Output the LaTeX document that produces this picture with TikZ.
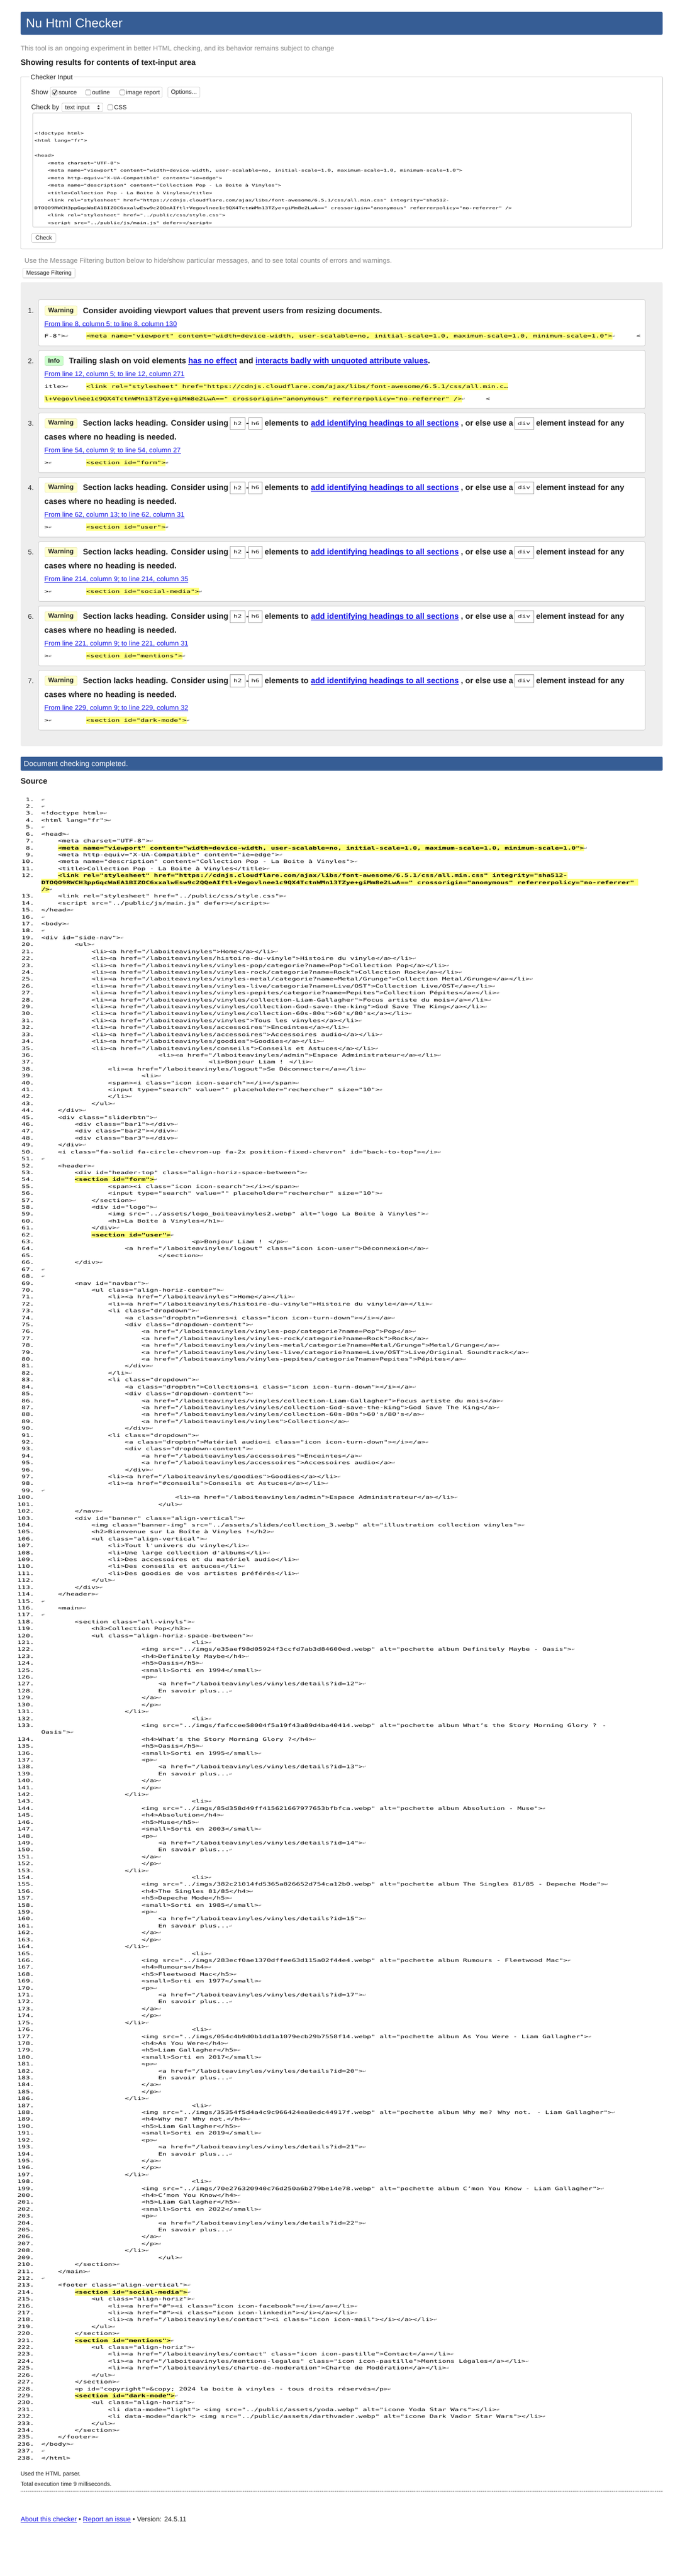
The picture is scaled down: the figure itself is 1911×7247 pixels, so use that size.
\documentclass[tikz,border=0pt]{standalone}
\usepackage{fontspec}
\setmainfont{Liberation Sans}
\newfontfamily\mono[FakeStretch=1.5]{DejaVu Sans Mono}
\newfontfamily\arr{DejaVu Sans}
\definecolor{hdr}{HTML}{365D95}
\definecolor{lnk}{HTML}{1A1AE6}
\definecolor{hl}{HTML}{FFFF80}
\definecolor{grayt}{HTML}{888888}
\definecolor{resbg}{HTML}{EEEEEE}
\definecolor{bord}{HTML}{CCCCCC}
\definecolor{warnbg}{HTML}{FFFFCC}
\definecolor{warnbd}{HTML}{CFCF9A}
\definecolor{infobg}{HTML}{CCFFCC}
\definecolor{infobd}{HTML}{9ACF9A}
\definecolor{txt}{HTML}{222222}
\definecolor{retc}{HTML}{555555}
\definecolor{codeb}{HTML}{999999}
\newcommand\fs[1]{\fontsize{#1pt}{#1pt}\selectfont}
\newcommand\ulk[1]{\setbox0\hbox{#1}\rlap{\rule[-3.2pt]{\wd0}{1.3pt}}\box0}
\newcommand\arrc{{\arr\fs{11}\color{retc}↵}}
\newcommand\ly[1]{2254+19.44*(#1-1+2*(#1>12)+(#1>133))}
\tikzset{
  lnum/.style={anchor=base east, font=\mono\fs{13}, text=black},
  src/.style={anchor=base west, font=\mono\fs{13}, text=black},
  srch/.style={anchor=base west, font=\mono\bfseries\fs{13}, text=black, fill=hl, text height=14.25pt, text depth=4.75pt},
  retn/.style={anchor=base west, font=\arr\fs{11}, text=retc},
  body/.style={anchor=base west, font=\fs{19.2}},
  ttl/.style={anchor=base west, font=\bfseries\fs{22.2}},
  lnkt/.style={anchor=base west, font=\fs{19.2}, text=lnk},
  cbox/.style={draw=codeb, densely dotted, minimum height=34pt, font=\mono\fs{13}},
  xtr/.style={anchor=base west, font=\mono\fs{13}, text=black},
  xtrh/.style={anchor=base west, font=\mono\fs{13}, text=black, fill=hl, text height=15.1pt, text depth=5.6pt},
  tat/.style={anchor=base west, font=\mono\fs{10.25}, text=black},
  btn/.style={draw=bord, rounded corners=3pt, fill=white, line width=1pt},
  cbk/.style={draw=codeb, rounded corners=2pt, fill=white, line width=1pt},
  lbl/.style={anchor=base west, font=\fs{17}},
  mbox/.style={draw=bord, fill=white, rounded corners=4pt, line width=1.2pt},
  mnum/.style={anchor=base east, font=\fs{19.2}},
  warn/.style={draw=warnbd, fill=warnbg, rounded corners=4pt, minimum width=91pt, minimum height=27pt, font=\bfseries\fs{18}},
  info/.style={draw=infobd, fill=infobg, rounded corners=4pt, minimum width=52pt, minimum height=27pt, font=\bfseries\fs{18}},
}
\newcommand\SL[3]{%
  \node[lnum] (n#1) at (96,{\ly{#1}}) {#1.};
  \node[src] (s#1) at ({116+11.75*#2},{\ly{#1}}) {#3};
  \node[retn] (r#1) at (s#1.base east) {↵};}
\newcommand\SLH[3]{%
  \node[lnum] (n#1) at (96,{\ly{#1}}) {#1.};
  \node[srch] (s#1) at ({116+11.75*#2},{\ly{#1}}) {#3};
  \node[retn] (r#1) at (s#1.base east) {↵};}
\newcommand\SLx[3]{\edef\tmpn{\the\numexpr#1\relax}\expandafter\SL\expandafter{\tmpn}{#2}{#3}}
\newcommand\ALB[5]{%
  \SL{#1}{36}{<li>}
  \SLx{#1+2}{24}{<h4>#2</h4>}
  \SLx{#1+3}{24}{<h5>#3</h5>}
  \SLx{#1+4}{24}{<small>Sorti en #4</small>}
  \SLx{#1+5}{24}{<p>}
  \SLx{#1+6}{28}{<a href="/laboiteavinyles/vinyles/details?id=#5">}
  \SLx{#1+7}{28}{En savoir plus...}
  \SLx{#1+8}{24}{</a>}
  \SLx{#1+9}{24}{</p>}
  \SLx{#1+10}{20}{</li>}}
\newcommand\IMG[3]{\SL{#1}{24}{<img src="../imgs/#2.webp" alt="pochette album #3">}}
\newcommand\TA[3]{\node[tat] (ta#1) at ({97+9.26*#2},{379+21*#1}) {#3};}
\newcommand\SECMSG[4]{%
  \draw[mbox] (108,#2) rectangle (1814,{#2+168});
  \node[mnum] (mn#1) at (95,{#2+36}) {#1.};
  \node[warn] (mw#1) at (171.5,{#2+29}) {Warning};
  \node[ttl] (ma#1) at (233,{#2+36.5}) {Section lacks heading. Consider using};
  \node[cbox, minimum width=42pt] (mhb#1) at (668,{#2+29}) {h2};
  \node[ttl] (md#1) at (692,{#2+36.5}) {-};
  \node[cbox, minimum width=38pt] (mhc#1) at (718,{#2+29}) {h6};
  \node[ttl] (me#1) at (744,{#2+36.5}) {elements to};
  \node[ttl, text=lnk] (ml#1) at (874,{#2+36.5}) {\ulk{add identifying headings to all sections}};
  \node[ttl] (mo#1) at (1296,{#2+36.5}) {, or else use a};
  \node[cbox, minimum width=53pt] (mdv#1) at (1473.5,{#2+29}) {div};
  \node[ttl] (mi#1) at (1507,{#2+36.5}) {element instead for any};
  \node[ttl] (mc#1) at (125,{#2+75.5}) {cases where no heading is needed.};
  \node[lnkt] (mf#1) at (125,{#2+111.5}) {\ulk{#3}};
  \node[xtr] (mx#1) at (125,{#2+144.75}) {>\arrc};
  \node[xtrh] (mxh#1) at (242.5,{#2+144.75}) {<section id="#4">};
  \node[retn] (mxr#1) at (mxh#1.base east) {↵};}
\begin{document}
\begin{tikzpicture}[x=1pt,y=-1pt, every node/.style={inner sep=0pt, outer sep=0pt, text=txt}]
\fill[white] (0,0) rectangle (1911,7247);
\useasboundingbox (0,0) rectangle (1911,7247);
% header
\fill[hdr, rounded corners=4pt] (58,33) rectangle (1863,98);
\node[anchor=base west, font=\fs{35.7}, text=white] (title) at (73,78) {Nu Html Checker};
\node[body, text=grayt] (intro) at (58,142.5) {This tool is an ongoing experiment in better HTML checking, and its behavior remains subject to change};
\node[ttl] (showing) at (58,183) {Showing results for contents of text-input area};
% fieldset
\draw[bord, rounded corners=3pt, line width=1.2pt] (58,216) rectangle (1863,700);
\node[anchor=base west, fill=white, inner xsep=3pt, font=\fs{19}] (legend) at (83,224.5) {Checker Input};
\node[body, font=\fs{18.8}] (show) at (88,266.5) {Show};
\draw[btn] (142,245) rectangle (456,274);
\draw[cbk] (147,253) rectangle (161,267);
\draw[line width=1.6pt, black] (149.5,260) -- (153,265) -- (159.5,254);
\node[lbl] (cbsrc) at (165,266) {source};
\draw[cbk] (241,253) rectangle (255,267);
\node[lbl] (cbout) at (259,266) {outline};
\draw[cbk] (337,253) rectangle (351,267);
\node[lbl] (cbimg) at (354,266) {image report};
\node[btn, minimum width=90pt, minimum height=29pt, font=\fs{17}] (opt) at (517,259.5) {Options...};
\node[body, font=\fs{18.8}] (checkby) at (88,308.5) {Check by};
\draw[btn] (174,290) rectangle (289,314);
\node[lbl] (selt) at (183,308) {text input};
\fill[txt] (274,300) -- (280,300) -- (277,295.5) -- cycle;
\fill[txt] (274,304) -- (280,304) -- (277,308.5) -- cycle;
\draw[cbk] (303,295) rectangle (317,309);
\node[lbl] (css) at (321,308) {CSS};
\draw[bord, rounded corners=3pt, line width=1.2pt] (92,318) rectangle (1775,639);
\TA{0}{0}{<!doctype html>}
\TA{1}{0}{<html lang="fr">}
\TA{3}{0}{<head>}
\TA{4}{4}{<meta charset="UTF-8">}
\TA{5}{4}{<meta name="viewport" content="width=device-width, user-scalable=no, initial-scale=1.0, maximum-scale=1.0, minimum-scale=1.0">}
\TA{6}{4}{<meta http-equiv="X-UA-Compatible" content="ie=edge">}
\TA{7}{4}{<meta name="description" content="Collection Pop - La Boite à Vinyles">}
\TA{8}{4}{<title>Collection Pop - La Boite à Vinyles</title>}
\TA{9}{4}{<link rel="stylesheet" href="https://cdnjs.cloudflare.com/ajax/libs/font-awesome/6.5.1/css/all.min.css" integrity="sha512-}
\TA{10}{0}{DTOQO9RWCH3ppGqcWaEA1BIZOC6xxalwEsw9c2QQeAIftl+Vegovlnee1c9QX4TctnWMn13TZye+giMm8e2LwA==" crossorigin="anonymous" referrerpolicy="no-referrer" />}
\TA{11}{4}{<link rel="stylesheet" href="../public/css/style.css">}
\TA{12}{4}{<script src="../public/js/main.js" defer></script>}
\node[btn, minimum width=68pt, minimum height=25pt, font=\fs{16.3}] (checkb) at (123,669.5) {Check};
\node[body, text=grayt] (usemf) at (69,739.5) {Use the Message Filtering button below to hide/show particular messages, and to see total counts of errors and warnings.};
\node[btn, minimum width=147pt, minimum height=27pt, font=\fs{16.2}] (mfb) at (137.5,768.5) {Message Filtering};
% results
\fill[resbg, rounded corners=4pt] (58,794) rectangle (1863,2099);
% message 1
\draw[mbox] (108,843) rectangle (1814,973);
\node[mnum] (mn1) at (95,881) {1.};
\node[warn] (mw1) at (171.5,874) {Warning};
\node[ttl] (mt1) at (233,881.5) {Consider avoiding viewport values that prevent users from resizing documents.};
\node[lnkt] (mf1) at (125,917.5) {\ulk{From line 8, column 5; to line 8, column 130}};
\node[xtr] (mx1) at (125,950) {F-8">\arrc};
\node[xtrh] (mxh1) at (242.5,950) {<meta name="viewport" content="width=device-width, user-scalable=no, initial-scale=1.0, maximum-scale=1.0, minimum-scale=1.0">};
\node[retn] (mxr1) at (mxh1.base east) {↵};
\node[xtr] (mxe1) at (1789,950) {<};
% message 2
\draw[mbox] (108,986) rectangle (1814,1149);
\node[mnum] (mn2) at (95,1022) {2.};
\node[info] (mw2) at (152,1015) {Info};
\node[ttl] (mt2) at (194,1022.5) {Trailing slash on void elements \textcolor{lnk}{\ulk{has no effect}} and \textcolor{lnk}{\ulk{interacts badly with unquoted attribute values}}.};
\node[lnkt] (mf2) at (125,1058.5) {\ulk{From line 12, column 5; to line 12, column 271}};
\node[xtr] (mx2) at (125,1092) {itle>\arrc};
\node[xtrh] (mxh2) at (242.5,1092) {<link rel="stylesheet" href="https://cdnjs.cloudflare.com/ajax/libs/font-awesome/6.5.1/css/all.min.c…};
\node[xtrh] (mxk2) at (125,1127) {l+Vegovlnee1c9QX4TctnWMn13TZye+giMm8e2LwA==" crossorigin="anonymous" referrerpolicy="no-referrer" />};
\node[retn] (mxr2) at (mxk2.base east) {↵};
\node[xtr] (mxe2) at (1366,1127) {<};
% messages 3-7
\SECMSG{3}{1162}{From line 54, column 9; to line 54, column 27}{form}
\SECMSG{4}{1343}{From line 62, column 13; to line 62, column 31}{user}
\SECMSG{5}{1524}{From line 214, column 9; to line 214, column 35}{social-media}
\SECMSG{6}{1705}{From line 221, column 9; to line 221, column 31}{mentions}
\SECMSG{7}{1886}{From line 229, column 9; to line 229, column 32}{dark-mode}
% completed
\fill[hdr, rounded corners=3pt] (58,2129) rectangle (1863,2168);
\node[anchor=base west, font=\fs{21}, text=white] (done) at (67,2156) {Document checking completed.};
\node[ttl] (srchead) at (58,2205.5) {Source};
% source listing
\SL{1}{0}{}
\SL{2}{0}{}
\SL{3}{0}{<!doctype html>}
\SL{4}{0}{<html lang="fr">}
\SL{5}{0}{}
\SL{6}{0}{<head>}
\SL{7}{4}{<meta charset="UTF-8">}
\SLH{8}{4}{<meta name="viewport" content="width=device-width, user-scalable=no, initial-scale=1.0, maximum-scale=1.0, minimum-scale=1.0">}
\SL{9}{4}{<meta http-equiv="X-UA-Compatible" content="ie=edge">}
\SL{10}{4}{<meta name="description" content="Collection Pop - La Boite à Vinyles">}
\SL{11}{4}{<title>Collection Pop - La Boite à Vinyles</title>}
\node[lnum] (n12) at (96,{\ly{12}}) {12.};
\node[srch] (s12a) at ({116+11.75*4},{\ly{12}}) {<link rel="stylesheet" href="https://cdnjs.cloudflare.com/ajax/libs/font-awesome/6.5.1/css/all.min.css" integrity="sha512-};
\node[srch] (s12b) at (116,{\ly{12}+19.44}) {DTOQO9RWCH3ppGqcWaEA1BIZOC6xxalwEsw9c2QQeAIftl+Vegovlnee1c9QX4TctnWMn13TZye+giMm8e2LwA==" crossorigin="anonymous" referrerpolicy="no-referrer"\kern11.75pt};
\node[srch] (s12c) at (116,{\ly{12}+38.88}) {/>};
\node[retn] (r12) at (s12c.base east) {↵};
\SL{13}{4}{<link rel="stylesheet" href="../public/css/style.css">}
\SL{14}{4}{<script src="../public/js/main.js" defer></script>}
\SL{15}{0}{</head>}
\SL{16}{0}{}
\SL{17}{0}{<body>}
\SL{18}{0}{}
\SL{19}{0}{<div id="side-nav">}
\SL{20}{8}{<ul>}
\SL{21}{12}{<li><a href="/laboiteavinyles">Home</a></li>}
\SL{22}{12}{<li><a href="/laboiteavinyles/histoire-du-vinyle">Histoire du vinyle</a></li>}
\SL{23}{12}{<li><a href="/laboiteavinyles/vinyles-pop/categorie?name=Pop">Collection Pop</a></li>}
\SL{24}{12}{<li><a href="/laboiteavinyles/vinyles-rock/categorie?name=Rock">Collection Rock</a></li>}
\SL{25}{12}{<li><a href="/laboiteavinyles/vinyles-metal/categorie?name=Metal/Grunge">Collection Metal/Grunge</a></li>}
\SL{26}{12}{<li><a href="/laboiteavinyles/vinyles-live/categorie?name=Live/OST">Collection Live/OST</a></li>}
\SL{27}{12}{<li><a href="/laboiteavinyles/vinyles-pepites/categorie?name=Pepites">Collection Pépites</a></li>}
\SL{28}{12}{<li><a href="/laboiteavinyles/vinyles/collection-Liam-Gallagher">Focus artiste du mois</a></li>}
\SL{29}{12}{<li><a href="/laboiteavinyles/vinyles/collection-God-save-the-king">God Save The King</a></li>}
\SL{30}{12}{<li><a href="/laboiteavinyles/vinyles/collection-60s-80s">60's/80's</a></li>}
\SL{31}{12}{<li><a href="/laboiteavinyles/vinyles">Tous les vinyles</a></li>}
\SL{32}{12}{<li><a href="/laboiteavinyles/accessoires">Enceintes</a></li>}
\SL{33}{12}{<li><a href="/laboiteavinyles/accessoires">Accessoires audio</a></li>}
\SL{34}{12}{<li><a href="/laboiteavinyles/goodies">Goodies</a></li>}
\SL{35}{12}{<li><a href="/laboiteavinyles/conseils">Conseils et Astuces</a></li>}
\SL{36}{28}{<li><a href="/laboiteavinyles/admin">Espace Administrateur</a></li>}
\SL{37}{40}{<li>Bonjour Liam ! </li>}
\SL{38}{16}{<li><a href="/laboiteavinyles/logout">Se Déconnecter</a></li>}
\SL{39}{24}{<li>}
\SL{40}{16}{<span><i class="icon icon-search"></i></span>}
\SL{41}{16}{<input type="search" value="" placeholder="rechercher" size="10">}
\SL{42}{16}{</li>}
\SL{43}{12}{</ul>}
\SL{44}{4}{</div>}
\SL{45}{4}{<div class="sliderbtn">}
\SL{46}{8}{<div class="bar1"></div>}
\SL{47}{8}{<div class="bar2"></div>}
\SL{48}{8}{<div class="bar3"></div>}
\SL{49}{4}{</div>}
\SL{50}{4}{<i class="fa-solid fa-circle-chevron-up fa-2x position-fixed-chevron" id="back-to-top"></i>}
\SL{51}{0}{}
\SL{52}{4}{<header>}
\SL{53}{8}{<div id="header-top" class="align-horiz-space-between">}
\SLH{54}{8}{<section id="form">}
\SL{55}{16}{<span><i class="icon icon-search"></i></span>}
\SL{56}{16}{<input type="search" value="" placeholder="rechercher" size="10">}
\SL{57}{12}{</section>}
\SL{58}{12}{<div id="logo">}
\SL{59}{16}{<img src="../assets/logo\_boiteavinyles2.webp" alt="logo La Boite à Vinyles">}
\SL{60}{16}{<h1>La Boîte à Vinyles</h1>}
\SL{61}{12}{</div>}
\SLH{62}{12}{<section id="user">}
\SL{63}{36}{<p>Bonjour Liam ! </p>}
\SL{64}{20}{<a href="/laboiteavinyles/logout" class="icon icon-user">Déconnexion</a>}
\SL{65}{28}{</section>}
\SL{66}{8}{</div>}
\SL{67}{0}{}
\SL{68}{0}{}
\SL{69}{8}{<nav id="navbar">}
\SL{70}{12}{<ul class="align-horiz-center">}
\SL{71}{16}{<li><a href="/laboiteavinyles">Home</a></li>}
\SL{72}{16}{<li><a href="/laboiteavinyles/histoire-du-vinyle">Histoire du vinyle</a></li>}
\SL{73}{16}{<li class="dropdown">}
\SL{74}{20}{<a class="dropbtn">Genres<i class="icon icon-turn-down"></i></a>}
\SL{75}{20}{<div class="dropdown-content">}
\SL{76}{24}{<a href="/laboiteavinyles/vinyles-pop/categorie?name=Pop">Pop</a>}
\SL{77}{24}{<a href="/laboiteavinyles/vinyles-rock/categorie?name=Rock">Rock</a>}
\SL{78}{24}{<a href="/laboiteavinyles/vinyles-metal/categorie?name=Metal/Grunge">Metal/Grunge</a>}
\SL{79}{24}{<a href="/laboiteavinyles/vinyles-live/categorie?name=Live/OST">Live/Original Soundtrack</a>}
\SL{80}{24}{<a href="/laboiteavinyles/vinyles-pepites/categorie?name=Pepites">Pépites</a>}
\SL{81}{20}{</div>}
\SL{82}{16}{</li>}
\SL{83}{16}{<li class="dropdown">}
\SL{84}{20}{<a class="dropbtn">Collections<i class="icon icon-turn-down"></i></a>}
\SL{85}{20}{<div class="dropdown-content">}
\SL{86}{24}{<a href="/laboiteavinyles/vinyles/collection-Liam-Gallagher">Focus artiste du mois</a>}
\SL{87}{24}{<a href="/laboiteavinyles/vinyles/collection-God-save-the-king">God Save The King</a>}
\SL{88}{24}{<a href="/laboiteavinyles/vinyles/collection-60s-80s">60's/80's</a>}
\SL{89}{24}{<a href="/laboiteavinyles/vinyles">Collection</a>}
\SL{90}{20}{</div>}
\SL{91}{16}{<li class="dropdown">}
\SL{92}{20}{<a class="dropbtn">Matériel audio<i class="icon icon-turn-down"></i></a>}
\SL{93}{20}{<div class="dropdown-content">}
\SL{94}{24}{<a href="/laboiteavinyles/accessoires">Enceintes</a>}
\SL{95}{24}{<a href="/laboiteavinyles/accessoires">Accessoires audio</a>}
\SL{96}{20}{</div>}
\SL{97}{16}{<li><a href="/laboiteavinyles/goodies">Goodies</a></li>}
\SL{98}{16}{<li><a href="\#conseils">Conseils et Astuces</a></li>}
\SL{99}{0}{}
\SL{100}{32}{<li><a href="/laboiteavinyles/admin">Espace Administrateur</a></li>}
\SL{101}{28}{</ul>}
\SL{102}{8}{</nav>}
\SL{103}{8}{<div id="banner" class="align-vertical">}
\SL{104}{12}{<img class="banner-img" src="../assets/slides/collection\_3.webp" alt="illustration collection vinyles">}
\SL{105}{12}{<h2>Bienvenue sur La Boîte à Vinyles !</h2>}
\SL{106}{12}{<ul class="align-vertical">}
\SL{107}{16}{<li>Tout l'univers du vinyle</li>}
\SL{108}{16}{<li>Une large collection d'albums</li>}
\SL{109}{16}{<li>Des accessoires et du matériel audio</li>}
\SL{110}{16}{<li>Des conseils et astuces</li>}
\SL{111}{16}{<li>Des goodies de vos artistes préférés</li>}
\SL{112}{12}{</ul>}
\SL{113}{8}{</div>}
\SL{114}{4}{</header>}
\SL{115}{0}{}
\SL{116}{4}{<main>}
\SL{117}{0}{}
\SL{118}{8}{<section class="all-vinyls">}
\SL{119}{12}{<h3>Collection Pop</h3>}
\SL{120}{12}{<ul class="align-horiz-space-between">}
\ALB{121}{Definitely Maybe}{Oasis}{1994}{12}
\IMG{122}{e35aef98d05924f3ccfd7ab3d84600ed}{Definitely Maybe - Oasis}
\ALB{132}{What’s the Story Morning Glory ?}{Oasis}{1995}{13}
\node[lnum] (n133) at (96,{\ly{133}}) {133.};
\node[src] (s133a) at ({116+11.75*24},{\ly{133}}) {<img src="../imgs/fafccee58004f5a19f43a89d4ba40414.webp" alt="pochette album What’s the Story Morning Glory ? -};
\node[src] (s133b) at (116,{\ly{133}+19.44}) {Oasis">};
\node[retn] (r133) at (s133b.base east) {↵};
\ALB{143}{Absolution}{Muse}{2003}{14}
\IMG{144}{85d358d49ff415621667977653bfbfca}{Absolution - Muse}
\ALB{154}{The Singles 81/85}{Depeche Mode}{1985}{15}
\IMG{155}{382c21014fd5365a826652d754ca12b0}{The Singles 81/85 - Depeche Mode}
\ALB{165}{Rumours}{Fleetwood Mac}{1977}{17}
\IMG{166}{283ecf0ae1370dffee63d115a02f44e4}{Rumours - Fleetwood Mac}
\ALB{176}{As You Were}{Liam Gallagher}{2017}{20}
\IMG{177}{054c4b9d0b1dd1a1079ecb29b7558f14}{As You Were - Liam Gallagher}
\ALB{187}{Why me? Why not.}{Liam Gallagher}{2019}{21}
\IMG{188}{35354f5d4a4c9c966424ea8edc44917f}{Why me? Why not. - Liam Gallagher}
\ALB{198}{C’mon You Know}{Liam Gallagher}{2022}{22}
\IMG{199}{70e276320940c76d250a6b279be14e78}{C’mon You Know - Liam Gallagher}
\SL{209}{28}{</ul>}
\SL{210}{8}{</section>}
\SL{211}{4}{</main>}
\SL{212}{0}{}
\SL{213}{4}{<footer class="align-vertical">}
\SLH{214}{8}{<section id="social-media">}
\SL{215}{12}{<ul class="align-horiz">}
\SL{216}{16}{<li><a href="\#"><i class="icon icon-facebook"></i></a></li>}
\SL{217}{16}{<li><a href="\#"><i class="icon icon-linkedin"></i></a></li>}
\SL{218}{16}{<li><a href="/laboiteavinyles/contact"><i class="icon icon-mail"></i></a></li>}
\SL{219}{12}{</ul>}
\SL{220}{8}{</section>}
\SLH{221}{8}{<section id="mentions">}
\SL{222}{12}{<ul class="align-horiz">}
\SL{223}{16}{<li><a href="/laboiteavinyles/contact" class="icon icon-pastille">Contact</a></li>}
\SL{224}{16}{<li><a href="/laboiteavinyles/mentions-legales" class="icon icon-pastille">Mentions Légales</a></li>}
\SL{225}{16}{<li><a href="/laboiteavinyles/charte-de-moderation">Charte de Modération</a></li>}
\SL{226}{12}{</ul>}
\SL{227}{8}{</section>}
\SL{228}{8}{<p id="copyright">\&copy; 2024 la boite à vinyles - tous droits réservés</p>}
\SLH{229}{8}{<section id="dark-mode">}
\SL{230}{12}{<ul class="align-horiz">}
\SL{231}{16}{<li data-mode="light"> <img src="../public/assets/yoda.webp" alt="icone Yoda Star Wars"></li>}
\SL{232}{16}{<li data-mode="dark"> <img src="../public/assets/darthvader.webp" alt="icone Dark Vador Star Wars"></li>}
\SL{233}{12}{</ul>}
\SL{234}{8}{</section>}
\SL{235}{4}{</footer>}
\SL{236}{0}{</body>}
\SL{237}{0}{}
\node[lnum] (n238) at (96,{\ly{238}}) {238.};
\node[src] (s238) at (116,{\ly{238}}) {</html>};
% footer
\node[body, font=\fs{16.3}] (parser) at (58,6965) {Used the HTML parser.};
\node[body, font=\fs{16.3}] (exec) at (58,6994) {Total execution time 9 milliseconds.};
\coordinate (dl) at (58,7008);
\coordinate (dr) at (1863,7008);
\draw[densely dotted, color=grayt, line width=1pt] (dl) -- (dr);
\node[body] (foot) at (58,7094.5) {\textcolor{lnk}{\ulk{About this checker}} • \textcolor{lnk}{\ulk{Report an issue}} • Version: 24.5.11};
\end{tikzpicture}
\end{document}
